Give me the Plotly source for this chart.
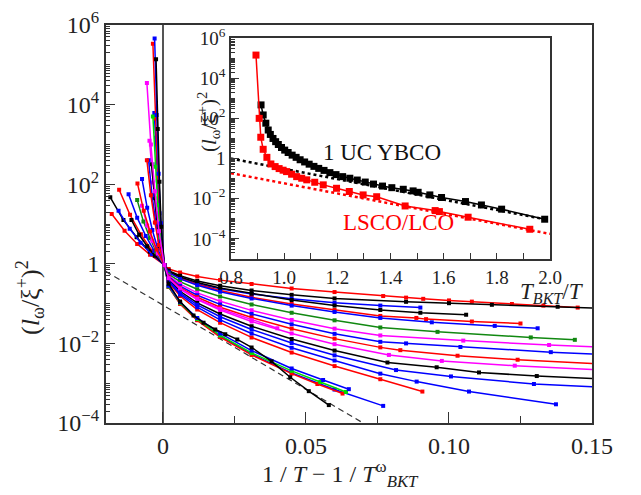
import plotly.graph_objects as go

# ---------------- main panel data (x = 1/T - 1/T_BKT, log10 of (l/xi)^2) ----------------
c01_x = [-0.0179, -0.0134, -0.009, -0.0045, 0.0005, 0.002, 0.006, 0.012, 0.02, 0.031, 0.045, 0.06, 0.077, 0.085, 0.091, 0.1, 0.108, 0.122, 0.133, 0.145]
c01_ly = [1.25, 0.83, 0.5, 0.23, -0.03, -0.13, -0.22, -0.32, -0.41, -0.51, -0.62, -0.71, -0.81, -0.85, -0.88, -0.92, -0.95, -1.01, -1.05, -1.10]
c02_x = [-0.0184, -0.0138, -0.0092, -0.0046, 0.0005, 0.002, 0.006, 0.012, 0.02, 0.031, 0.045, 0.06, 0.085, 0.1, 0.115, 0.138, 0.155]
c02_ly = [1.67, 1.1, 0.67, 0.3, -0.03, -0.17, -0.3, -0.43, -0.55, -0.67, -0.78, -0.87, -0.955, -0.99, -1.03, -1.08, -1.12]
c03_x = [-0.0155, -0.0116, -0.0078, -0.0039, 0.0005, 0.002, 0.006, 0.012, 0.02, 0.031, 0.045, 0.06, 0.076, 0.09]
c03_ly = [1.33, 0.88, 0.53, 0.24, -0.03, -0.2, -0.36, -0.5, -0.63, -0.76, -0.88, -0.98, -1.05, -1.10]
c04_x = [-0.0153, -0.0115, -0.0077, -0.0038, 0.0005, 0.002, 0.006, 0.012, 0.02, 0.031, 0.045, 0.06, 0.076, 0.0886, 0.092, 0.108, 0.125]
c04_ly = [1.86, 1.23, 0.74, 0.33, -0.03, -0.21, -0.37, -0.52, -0.67, -0.84, -1.01, -1.16, -1.31, -1.36, -1.39, -1.45, -1.5]
c05_x = [-0.011, -0.0083, -0.0055, -0.0028, 0.0005, 0.002, 0.006, 0.012, 0.02, 0.031, 0.045, 0.06, 0.076, 0.09, 0.106]
c05_ly = [1.1, 0.73, 0.44, 0.2, -0.03, -0.19, -0.33, -0.47, -0.61, -0.75, -0.91, -1.05, -1.16, -1.23, -1.28]
c06_x = [-0.012, -0.009, -0.006, -0.003, 0.0005, 0.002, 0.006, 0.012, 0.02, 0.031, 0.045, 0.06, 0.076, 0.094, 0.116, 0.131]
c06_ly = [1.75, 1.16, 0.7, 0.32, -0.03, -0.22, -0.38, -0.54, -0.7, -0.87, -1.05, -1.21, -1.36, -1.47, -1.56, -1.62]
c07_x = [-0.009, -0.0068, -0.0045, -0.0023, 0.0005, 0.002, 0.006, 0.012, 0.02, 0.031, 0.045, 0.06, 0.076, 0.096, 0.1286, 0.144]
c07_ly = [1.6, 1.06, 0.64, 0.29, -0.03, -0.26, -0.45, -0.64, -0.82, -1.02, -1.23, -1.42, -1.6, -1.71, -1.85, -1.91]
c08_x = [-0.0073, -0.0055, -0.0037, -0.0018, 0.0005, 0.002, 0.006, 0.012, 0.02, 0.031, 0.045, 0.06, 0.076, 0.105, 0.135, 0.155]
c08_ly = [1.46, 0.96, 0.58, 0.26, -0.03, -0.3, -0.51, -0.73, -0.94, -1.17, -1.41, -1.63, -1.8, -1.93, -2.04, -2.1]
c09_x = [-0.0073, -0.0055, -0.0037, -0.0018, 0.0005, 0.002, 0.006, 0.012, 0.02, 0.031, 0.045, 0.06, 0.076, 0.085, 0.104, 0.1356, 0.155]
c09_ly = [2.13, 1.41, 0.85, 0.38, -0.03, -0.32, -0.56, -0.79, -1.02, -1.26, -1.52, -1.76, -1.96, -2.0, -2.09, -2.22, -2.28]
c10_x = [-0.0089, -0.0067, -0.0045, -0.0022, 0.0005, 0.002, 0.006, 0.012, 0.02, 0.031, 0.045, 0.06, 0.076, 0.083, 0.103, 0.124, 0.155]
c10_ly = [2.02, 1.33, 0.81, 0.36, -0.03, -0.34, -0.6, -0.84, -1.09, -1.35, -1.63, -1.88, -2.1, -2.17, -2.31, -2.41, -2.52]
c11_x = [-0.0047, -0.0035, -0.0024, -0.0012, 0.0005, 0.002, 0.006, 0.012, 0.02, 0.031, 0.045, 0.06, 0.079, 0.0975, 0.123, 0.155]
c11_ly = [3.09, 2.04, 1.24, 0.56, -0.03, -0.37, -0.64, -0.9, -1.16, -1.45, -1.75, -2.02, -2.29, -2.44, -2.56, -2.67]
c12_x = [-0.004, -0.003, -0.002, -0.001, 0.0005, 0.002, 0.006, 0.012, 0.02, 0.031, 0.045, 0.06, 0.0785, 0.0957, 0.1105, 0.1307, 0.155]
c12_ly = [2.5, 1.65, 1.0, 0.45, -0.03, -0.4, -0.69, -0.98, -1.26, -1.57, -1.89, -2.18, -2.48, -2.6, -2.73, -2.82, -2.9]
c13_x = [-0.005, -0.0038, -0.0025, -0.0013, 0.0005, 0.002, 0.006, 0.012, 0.02, 0.031, 0.045, 0.06, 0.0815, 0.1007, 0.1297, 0.155]
c13_ly = [2.6, 1.72, 1.04, 0.47, -0.03, -0.42, -0.73, -1.03, -1.33, -1.65, -1.99, -2.3, -2.67, -2.83, -3.02, -3.11]
c14_x = [-0.0056, -0.0042, -0.0028, -0.0014, 0.0005, 0.002, 0.006, 0.012, 0.02, 0.031, 0.045, 0.06, 0.076, 0.0907]
c14_ly = [2.6, 1.72, 1.04, 0.47, -0.03, -0.47, -0.81, -1.15, -1.48, -1.85, -2.23, -2.57, -2.9, -3.21]
c15_x = [-0.0024, -0.0018, -0.0012, -0.0006, 0.0005, 0.002, 0.006, 0.012, 0.02, 0.031, 0.045, 0.06, 0.076, 0.0887, 0.107, 0.1374]
c15_ly = [3.17, 2.09, 1.27, 0.57, -0.03, -0.44, -0.77, -1.09, -1.41, -1.75, -2.11, -2.43, -2.76, -2.96, -3.21, -3.53]
c16_x = [-0.003, -0.00225, -0.0015, -0.00075, 0.0005, 0.002, 0.006, 0.012, 0.02, 0.031, 0.045, 0.06, 0.077]
c16_ly = [3.79, 2.5, 1.52, 0.68, -0.03, -0.58, -1.0, -1.41, -1.82, -2.27, -2.74, -3.16, -3.57]
c17_x = [-0.0035, -0.0026, -0.0018, -0.0009, 0.0005, 0.002, 0.006, 0.012, 0.02, 0.031, 0.045, 0.054, 0.0628]
c17_ly = [5.53, 3.65, 2.21, 1.0, -0.03, -0.58, -1.01, -1.42, -1.84, -2.29, -2.76, -3.02, -3.26]
c18_x = [-0.0035, -0.0026, -0.0018, -0.0009, 0.0005, 0.002, 0.006, 0.012, 0.02, 0.031, 0.045, 0.055, 0.064]
c18_ly = [3.7, 2.44, 1.48, 0.67, -0.03, -0.57, -0.98, -1.39, -1.8, -2.24, -2.69, -2.97, -3.22]
c19_x = [-0.0029, -0.0022, -0.0015, -0.0007, 0.0005, 0.002, 0.006, 0.012, 0.02, 0.031, 0.045, 0.056, 0.065]
c19_ly = [5.66, 3.74, 2.26, 1.02, -0.03, -0.55, -0.96, -1.36, -1.75, -2.18, -2.63, -2.92, -3.15]
c20_x = [-0.0024, -0.0018, -0.0012, -0.0006, 0.0005, 0.002, 0.006, 0.0107, 0.0142, 0.0183, 0.0218, 0.026, 0.031, 0.038, 0.0445, 0.051, 0.058]
c20_ly = [5.14, 3.39, 2.06, 0.93, -0.03, -0.5, -0.95, -1.3, -1.48, -1.65, -1.77, -1.9, -2.1, -2.45, -2.85, -3.2, -3.55]
c21_x = [-0.0056, -0.0042, -0.0028, -0.0014, 0.0005, 0.002, 0.006, 0.012, 0.02, 0.031, 0.04]
c21_ly = [4.54, 3.0, 1.82, 0.82, -0.03, -0.36, -0.62, -0.88, -1.13, -1.41, -1.62]

guide_x = [-0.02, 0.0735]
guide_ly = [-0.19, -4.15]

# ---------------- inset data (T_BKT/T, log10 of (l/xi)^2) ----------------
ybco_x = [0.913, 0.921, 0.931, 0.94, 0.948, 0.958, 0.968, 0.978, 0.99, 1.002, 1.015, 1.03, 1.045, 1.06, 1.077,
          1.094, 1.112, 1.13, 1.15, 1.172, 1.195, 1.22, 1.247, 1.275, 1.305, 1.336, 1.37, 1.405, 1.448, 1.485,
          1.504, 1.548, 1.592, 1.682, 1.742, 1.818, 1.98]
ybco_ly = [2.67, 2.17, 1.76, 1.42, 1.2, 1.0, 0.84, 0.7, 0.55, 0.42, 0.3, 0.17, 0.06, -0.06, -0.17,
           -0.28, -0.39, -0.49, -0.59, -0.7, -0.8, -0.9, -0.98, -1.07, -1.17, -1.27, -1.37, -1.45, -1.53, -1.61,
           -1.68, -1.81, -1.94, -2.14, -2.31, -2.52, -3.02]
lsco_x = [0.894, 0.906, 0.912, 0.921, 0.935, 0.95, 0.966, 0.981, 0.996, 1.009, 1.028, 1.047, 1.066, 1.085,
          1.115, 1.147, 1.197, 1.245, 1.297, 1.348, 1.455, 1.568, 1.584, 1.692, 1.924]
lsco_ly = [5.15, 2.0, 1.06, 0.46, 0.06, -0.27, -0.4, -0.5, -0.58, -0.65, -0.78, -0.9, -0.98, -1.06,
           -1.18, -1.31, -1.48, -1.64, -1.81, -1.9, -2.36, -2.59, -2.64, -2.92, -3.52]
ybco_fit_x = [0.8, 1.98]
ybco_fit_ly = [0.0, -3.02]
lsco_fit_x = [0.8, 2.0]
lsco_fit_ly = [-0.73, -3.75]

main_curves = [
    (c01_x, c01_ly), (c02_x, c02_ly), (c03_x, c03_ly), (c04_x, c04_ly), (c05_x, c05_ly),
    (c06_x, c06_ly), (c07_x, c07_ly), (c08_x, c08_ly), (c09_x, c09_ly), (c10_x, c10_ly),
    (c11_x, c11_ly), (c12_x, c12_ly), (c13_x, c13_ly), (c14_x, c14_ly), (c15_x, c15_ly),
    (c16_x, c16_ly), (c17_x, c17_ly), (c18_x, c18_ly), (c19_x, c19_ly), (c20_x, c20_ly),
    (c21_x, c21_ly),
]
RED, BLUE, BLACK, GREEN, LIME, MAG = "#ff0000", "#0000ff", "#000000", "#118811", "#00dd00", "#ff00ff"
curve_colors = [RED, BLACK, BLUE, RED, BLACK, BLUE, GREEN, MAG, BLUE, RED,
                MAG, BLACK, BLUE, RED, BLUE, BLUE, RED, LIME, BLUE, BLACK, MAG]

SERIF = "Liberation Serif"
TXT = "#222222"


def tolin(v):
    return [10 ** a for a in v]


fig = go.Figure()

fig.add_trace(go.Scatter(x=guide_x, y=tolin(guide_ly), mode="lines",
                         line=dict(color="#333333", width=1.2, dash="6px,4px"),
                         xaxis="x", yaxis="y", showlegend=False, hoverinfo="skip"))

for (xs, ly), col in zip(main_curves, curve_colors):
    fig.add_trace(go.Scatter(x=xs, y=tolin(ly), mode="lines+markers",
                             line=dict(color=col, width=1.5),
                             marker=dict(symbol="square", size=4, color=col),
                             xaxis="x", yaxis="y", showlegend=False))

# inset
fig.add_trace(go.Scatter(x=ybco_fit_x, y=tolin(ybco_fit_ly), mode="lines",
                         line=dict(color="#000000", width=2.5, dash="dot"),
                         xaxis="x2", yaxis="y2", showlegend=False))
fig.add_trace(go.Scatter(x=lsco_fit_x, y=tolin(lsco_fit_ly), mode="lines",
                         line=dict(color="#ff0000", width=2.5, dash="dot"),
                         xaxis="x2", yaxis="y2", showlegend=False))
fig.add_trace(go.Scatter(x=ybco_x, y=tolin(ybco_ly), mode="lines+markers",
                         line=dict(color="#000000", width=1.5),
                         marker=dict(symbol="square", size=7, color="#000000"),
                         xaxis="x2", yaxis="y2", showlegend=False))
fig.add_trace(go.Scatter(x=lsco_x, y=tolin(lsco_ly), mode="lines+markers",
                         line=dict(color="#ff0000", width=1.5),
                         marker=dict(symbol="square", size=7, color="#ff0000"),
                         xaxis="x2", yaxis="y2", showlegend=False))


def sup_label(e):
    if e == 0:
        return "1"
    s = str(e) if e > 0 else "\u2212" + str(-e)
    return "10<sup>" + s + "</sup>"


main_y_major = [-4, -2, 0, 2, 4, 6]
main_y_minor = [m * 10 ** d for d in range(-4, 6) for m in range(2, 10)] + [10 ** d for d in (-3, -1, 1, 3, 5)]
inset_y_major = [-4, -2, 0, 2, 4, 6]
inset_y_minor = [m * 10 ** d for d in range(-5, 6) for m in range(2, 10)] + [10 ** d for d in (-5, -3, -1, 1, 3, 5)]

W, H = 641, 495
main_dom_x = [105.7 / W, 592 / W]
main_dom_y = [(H - 423) / H, (H - 25) / H]
ins_dom_x = [231 / W, 550 / W]
ins_dom_y = [(H - 259) / H, (H - 38) / H]

axis_common = dict(showgrid=False, showline=True, mirror=True, linecolor="#333333", linewidth=1.5,
                   ticks="inside", tickcolor="#333333", tickwidth=1.2)


def ann(text, px, py, size, color=TXT, angle=0):
    return dict(text=text, x=px / W, y=(H - py) / H, xref="paper", yref="paper",
                xanchor="center", yanchor="middle", showarrow=False, textangle=angle,
                font=dict(family=SERIF, size=size, color=color))


fig.update_layout(
    width=W, height=H, autosize=False,
    margin=dict(l=0, r=0, t=0, b=0),
    paper_bgcolor="white", plot_bgcolor="white",
    showlegend=False,
    font=dict(family=SERIF, color=TXT),
    xaxis=dict(domain=main_dom_x, range=[-0.02, 0.15], anchor="y",
               tickvals=[0, 0.05, 0.1, 0.15], ticktext=["0", "0.05", "0.10", "0.15"],
               ticklen=11, tickfont=dict(family=SERIF, size=24, color=TXT),
               zeroline=True, zerolinecolor="#555555", zerolinewidth=1.5,
               minor=dict(tickvals=[0.025, 0.075, 0.125], ticks="inside", ticklen=7, tickcolor="#333333"),
               automargin=False, **axis_common),
    yaxis=dict(domain=main_dom_y, type="log", range=[-4, 6], anchor="x",
               tickvals=[10 ** e for e in main_y_major], ticktext=[sup_label(e) for e in main_y_major],
               ticklen=10, tickfont=dict(family=SERIF, size=24, color=TXT),
               minor=dict(tickvals=main_y_minor, ticks="inside", ticklen=5, tickcolor="#333333"),
               zeroline=False, automargin=False, **axis_common),
    xaxis2=dict(domain=ins_dom_x, range=[0.8, 2.0], anchor="y2",
                tickvals=[0.8, 1.0, 1.2, 1.4, 1.6, 1.8, 2.0],
                ticktext=["0.8", "1.0", "1.2", "1.4", "1.6", "1.8", "2.0"],
                ticklen=6, tickfont=dict(family=SERIF, size=19, color=TXT),
                minor=dict(tickvals=[0.9, 1.1, 1.3, 1.5, 1.7, 1.9], ticks="inside", ticklen=6, tickcolor="#333333"),
                zeroline=False, automargin=False, **axis_common),
    yaxis2=dict(domain=ins_dom_y, type="log", range=[-5, 6], anchor="x2",
                tickvals=[10 ** e for e in inset_y_major], ticktext=[sup_label(e) for e in inset_y_major],
                ticklen=8, tickfont=dict(family=SERIF, size=19, color=TXT),
                minor=dict(tickvals=inset_y_minor, ticks="inside", ticklen=4, tickcolor="#333333"),
                zeroline=False, automargin=False, **axis_common),
    annotations=[
        ann("(<i>l</i><sub>\u03c9</sub>/\u03be<sup>+</sup>)<sup>2</sup>", 30, 298, 26, angle=-90),
        ann("1 / <i>T</i> \u2212 1 / <i>T</i><sup>\u03c9</sup><sub><i>BKT</i></sub>", 340, 474, 24),
        ann("(<i>l</i><sub>\u03c9</sub>/\u03be<sup>+</sup>)<sup>2</sup>", 208, 122, 21, angle=-90),
        ann("<i>T</i><sub><i>BKT</i></sub>/<i>T</i>", 552, 293, 23),
        ann("1 UC YBCO", 382, 152, 23, color="#111111"),
        ann("LSCO/LCO", 398, 222, 23, color="#ff0000"),
    ],
)

fig.write_html("out.html")
